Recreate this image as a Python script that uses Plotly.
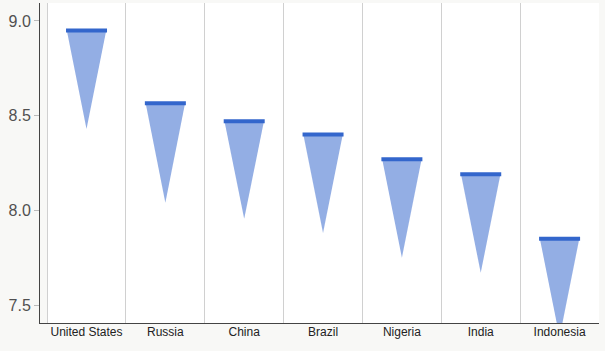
import plotly.graph_objects as go

categories = ["United States", "Russia", "China", "Brazil", "Nigeria", "India", "Indonesia"]
top_values = [8.95, 8.565, 8.47, 8.40, 8.27, 8.19, 7.85]
bottom_values = [8.43, 8.04, 7.955, 7.88, 7.75, 7.67, 7.33]

half_w = 0.25
fig = go.Figure()
for i, (cat, top, bot) in enumerate(zip(categories, top_values, bottom_values)):
    fig.add_trace(go.Scatter(
        x=[i - half_w, i + half_w, i, i - half_w],
        y=[top, top, bot, top],
        mode="lines", fill="toself",
        fillcolor="rgba(51,102,204,0.53)",
        line=dict(width=0, color="rgba(0,0,0,0)"),
        hoverinfo="skip", showlegend=False,
    ))
    fig.add_trace(go.Scatter(
        x=[i - half_w - 0.01, i + half_w + 0.01],
        y=[top, top],
        mode="lines",
        line=dict(width=4, color="#3366cc"),
        name=cat, showlegend=False,
    ))

n = len(categories)
fig.add_shape(type="rect", xref="x", yref="paper", x0=-0.5, x1=n - 0.5, y0=0, y1=1,
              fillcolor="white", line=dict(width=0), layer="below")

fig.update_layout(
    width=605, height=351,
    margin=dict(l=40, r=6, t=3, b=28),
    paper_bgcolor="#f8f8f6",
    plot_bgcolor="#f8f8f6",
    font=dict(family="Arial, Liberation Sans, sans-serif"),
    xaxis=dict(
        range=[-0.59, n - 0.5],
        tickmode="array",
        tickvals=list(range(n)),
        ticktext=categories,
        showgrid=False,
        zeroline=False,
        showline=True, linecolor="#444", linewidth=1,
        ticks="",
        ticklabelstandoff=-2,
        tickfont=dict(size=12, color="#222"),
        minor=dict(tickmode="array", tickvals=[k - 0.5 for k in range(n)],
                   showgrid=True, gridcolor="#d0d0d0", gridwidth=1, ticks=""),
    ),
    yaxis=dict(
        range=[7.405, 9.095],
        tickmode="array",
        tickvals=[7.5, 8.0, 8.5, 9.0],
        ticktext=["7.5", "8.0", "8.5", "9.0"],
        showgrid=False, zeroline=False,
        showline=True, linecolor="#444", linewidth=1,
        ticks="outside", ticklen=5, tickcolor="#bbb",
        tickfont=dict(size=16, color="#505050"),
    ),
)

fig.write_html("out.html")
